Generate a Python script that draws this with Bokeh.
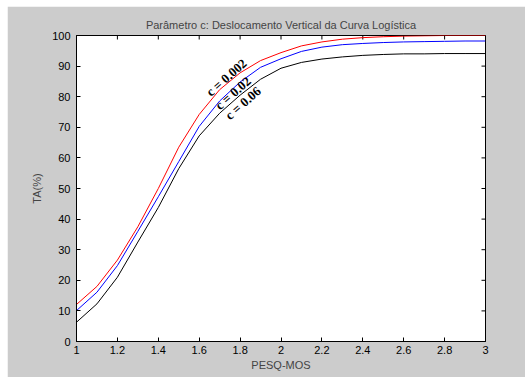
from bokeh.plotting import figure
from bokeh.models import FixedTicker, CustomJSTickFormatter, Range1d
from bokeh.core.properties import value
from bokeh.embed import file_html
from bokeh.resources import INLINE
import math

# Data
x = [1.0, 1.1, 1.2, 1.3, 1.4, 1.5, 1.6, 1.7, 1.8, 1.9, 2.0,
     2.1, 2.2, 2.3, 2.4, 2.5, 2.6, 2.7, 2.8, 2.9, 3.0]
ta_c0002 = [12.1, 18.0, 26.6, 37.5, 50.0, 63.5, 74.2, 82.3, 87.8, 91.8, 94.4,
            96.6, 97.9, 98.8, 99.3, 99.6, 99.8, 99.9, 100.0, 100.0, 100.0]
ta_c002 = [10.1, 16.1, 24.8, 36.0, 47.3, 58.8, 70.3, 78.6, 84.8, 89.6, 92.4,
           94.8, 96.2, 97.0, 97.4, 97.7, 97.9, 98.0, 98.1, 98.2, 98.2]
ta_c006 = [6.3, 12.3, 21.0, 32.5, 43.8, 56.5, 67.2, 74.6, 80.5, 85.7, 89.3,
           91.2, 92.3, 93.0, 93.5, 93.8, 94.0, 94.0, 94.1, 94.1, 94.1]

x_ticks = [1.0, 1.2, 1.4, 1.6, 1.8, 2.0, 2.2, 2.4, 2.6, 2.8, 3.0]
y_ticks = [0, 10, 20, 30, 40, 50, 60, 70, 80, 90, 100]

labels = ["c = 0.002", "c = 0.02", "c = 0.06"]
label_x = [1.733, 1.765, 1.814]
label_y = [86.3, 81.2, 77.9]

GRAY = "#cccccc"
X0, X1, Y0, Y1 = 1, 3, 0, 100

p = figure(width=518, height=371, output_backend="svg", toolbar_location=None,
           x_range=Range1d(X0, X1), y_range=Range1d(Y0, Y1),
           min_border_left=69, min_border_right=40, min_border_top=29,
           min_border_bottom=36)
p.margin = (6, 0, 0, 7)
p.background_fill_color = "white"
p.border_fill_color = GRAY
p.outline_line_color = "black"
p.grid.visible = False

p.title.text = "Parâmetro c: Deslocamento Vertical da Curva Logística"
p.title.align = "center"
p.title.text_font = "Liberation Sans"
p.title.text_font_size = "11px"
p.title.text_font_style = "normal"
p.title.offset = 6
p.title.standoff = 9

fmt = CustomJSTickFormatter(code="return Number(tick.toFixed(1)).toString();")

def style_axis(ax):
    ax.axis_line_color = "black"
    ax.major_tick_line_color = "black"
    ax.major_tick_in = 4
    ax.major_tick_out = 0
    ax.minor_tick_line_color = None
    ax.major_label_text_font = "Liberation Sans"
    ax.major_label_text_font_size = "11px"
    ax.major_label_text_color = "black"
    ax.axis_label_text_font = "Liberation Sans"
    ax.axis_label_text_font_size = "11px"
    ax.axis_label_text_font_style = "normal"

xa = p.xaxis[0]
xa.ticker = FixedTicker(ticks=x_ticks)
xa.formatter = fmt
xa.axis_label = "PESQ-MOS"
style_axis(xa)
xa.major_label_standoff = 4
xa.axis_label_standoff = 2

ya = p.yaxis[0]
ya.ticker = FixedTicker(ticks=y_ticks)
ya.axis_label = "TA(%)"
style_axis(ya)
ya.major_label_standoff = 6
ya.axis_label_standoff = 6

# inward ticks on the top and right edges (half of each dash is clipped by the frame)
p.scatter(x_ticks, [Y1] * len(x_ticks), marker="dash", size=8, angle=math.pi / 2,
          line_color="black", line_width=1)
p.scatter([X1] * len(y_ticks), y_ticks, marker="dash", size=8,
          line_color="black", line_width=1)

p.line(x, ta_c0002, line_color="#ff0000", line_width=1)
p.line(x, ta_c002, line_color="#0000ff", line_width=1)
p.line(x, ta_c006, line_color="black", line_width=1)

p.text(x=label_x, y=label_y, text=labels, angle=0.72,
       text_font=value("Liberation Serif"), text_font_style="bold",
       text_font_size="13px", text_align="center", text_baseline="middle",
       text_color="black")

open("out.html", "w").write(file_html(p, INLINE))
